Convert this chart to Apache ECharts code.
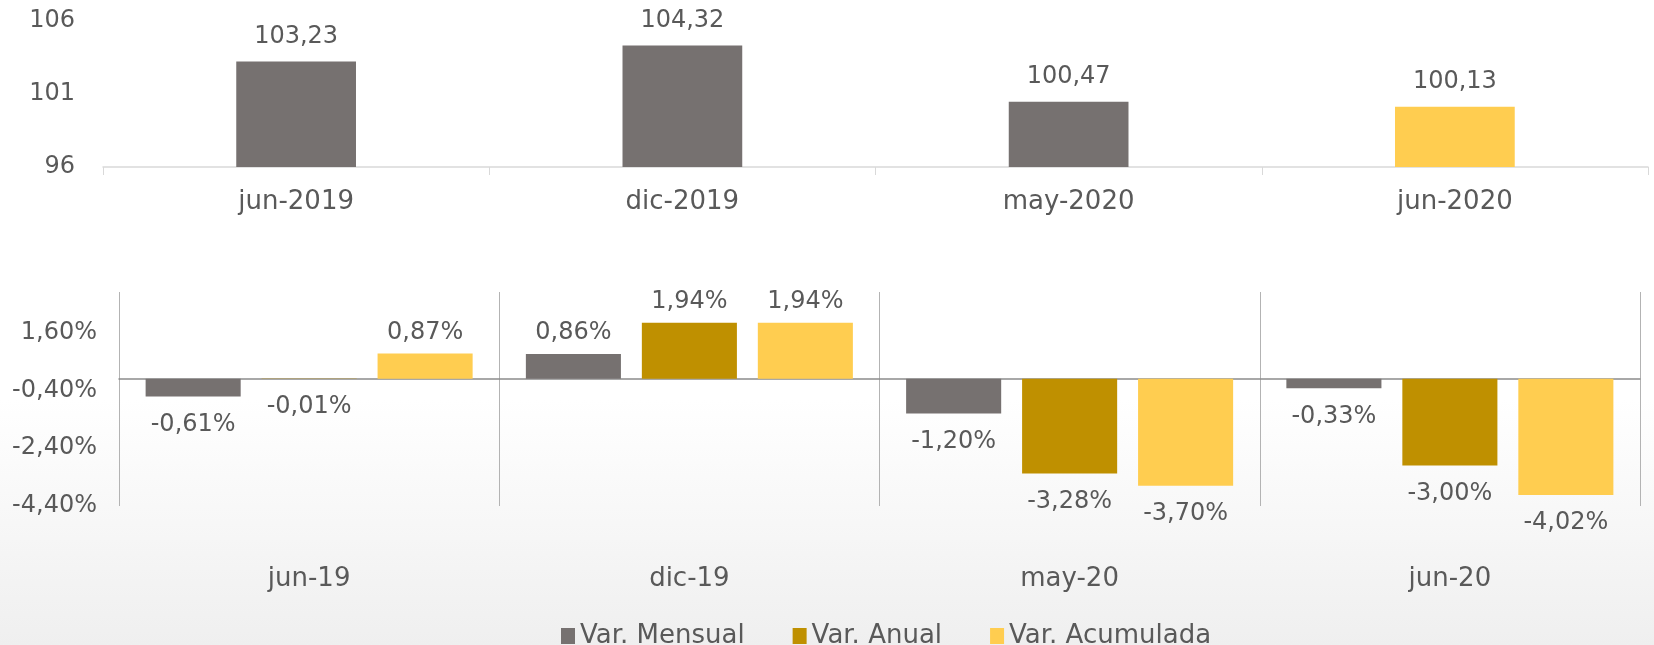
<!DOCTYPE html>
<html>
<head>
<meta charset="utf-8">
<script src="https://cdn.jsdelivr.net/npm/echarts@6/dist/echarts.min.js"></script>
<style>
  html, body { margin: 0; padding: 0; }
  #chart { width: 1654px; height: 645px; }
</style>
</head>
<body>
<div id="chart"></div>
<script>
'use strict';

// top chart: index level
var fechas = ['jun-2019', 'dic-2019', 'may-2020', 'jun-2020'];
var indice = [103.23, 104.32, 100.47, 100.13];

// bottom chart: variations (%)
var periodos = ['jun-19', 'dic-19', 'may-20', 'jun-20'];
var varMensual = [-0.61, 0.86, -1.20, -0.33];
var varAnual = [-0.01, 1.94, -3.28, -3.00];
var varAcumulada = [0.87, 1.94, -3.70, -4.02];

var GRIS = '#767170';
var ORO = '#bf9000';
var AMARILLO = '#ffcd50';
var TEXTO = '#595959';
var FUENTE = '"DejaVu Sans", sans-serif';

function coma(v) {
  return v.toFixed(2).replace('.', ',');
}

function pct(v) {
  return coma(v) + '%';
}

// negative bars get their label underneath
function conEtiqueta(valores) {
  return valores.map(function(v) {
    return {
      value: v,
      label: v < 0 ? { position: 'bottom', distance: 16 } : { position: 'top', distance: 9 }
    };
  });
}

function serieVar(nombre, valores, color) {
  return {
    name: nombre,
    type: 'bar',
    xAxisIndex: 1,
    yAxisIndex: 1,
    barWidth: '25%',
    barGap: '22%',
    itemStyle: { color: color },
    label: {
      show: true,
      color: TEXTO,
      fontFamily: FUENTE,
      fontSize: 24,
      formatter: function(p) { return pct(p.value); }
    },
    data: conEtiqueta(valores)
  };
}

var myChart = echarts.init(document.getElementById('chart'));

var option = {
  animation: false,
  backgroundColor: {
    type: 'linear', x: 0, y: 0, x2: 0, y2: 1,
    colorStops: [
      { offset: 0, color: '#ffffff' },
      { offset: 0.62, color: '#ffffff' },
      { offset: 1, color: '#efefef' }
    ]
  },
  textStyle: { fontFamily: FUENTE },
  legend: {
    data: ['Var. Mensual', 'Var. Anual', 'Var. Acumulada'],
    left: 556,
    top: 618,
    icon: 'rect',
    itemWidth: 14,
    itemHeight: 16,
    itemGap: 48,
    textStyle: { color: TEXTO, fontSize: 26, fontFamily: FUENTE }
  },
  grid: [
    { left: 103, right: 6, top: 21, bottom: 478 },
    { left: 119, right: 14, top: 292, bottom: 139 }
  ],
  xAxis: [{
    type: 'category',
    gridIndex: 0,
    data: fechas,
    axisLine: { lineStyle: { color: '#d9d9d9', width: 1.5 } },
    axisTick: { show: true, length: 8, lineStyle: { color: '#d9d9d9' } },
    axisLabel: { color: TEXTO, fontSize: 26, margin: 22 },
    splitLine: { show: false }
  }, {
    // zero line + category separators
    type: 'category',
    gridIndex: 1,
    data: periodos,
    axisLine: { onZero: true, lineStyle: { color: '#8c8c8c', width: 1.5 } },
    axisTick: { show: false },
    axisLabel: { show: false },
    splitLine: { show: true, lineStyle: { color: '#b3b3b3', width: 1 } }
  }, {
    // labels at the bottom
    type: 'category',
    gridIndex: 1,
    data: periodos,
    position: 'bottom',
    axisLine: { show: false, onZero: false },
    axisTick: { show: false },
    axisLabel: { color: TEXTO, fontSize: 26, margin: 60 },
    splitLine: { show: false }
  }],
  yAxis: [{
    type: 'value',
    gridIndex: 0,
    min: 96,
    max: 106,
    interval: 5,
    axisLine: { show: false },
    axisTick: { show: false },
    splitLine: { show: false },
    axisLabel: { color: TEXTO, fontSize: 24, margin: 28 }
  }, {
    type: 'value',
    gridIndex: 1,
    min: -4.4,
    max: 3,
    interval: 2,
    axisLine: { show: false },
    axisTick: { show: false },
    splitLine: { show: false },
    axisLabel: {
      color: TEXTO,
      fontSize: 24,
      margin: 22,
      showMaxLabel: false,
      formatter: function(v) { return pct(v); }
    }
  }],
  series: [{
    name: 'Índice',
    type: 'bar',
    xAxisIndex: 0,
    yAxisIndex: 0,
    barWidth: '31%',
    itemStyle: {
      color: function(p) { return p.dataIndex === indice.length - 1 ? AMARILLO : GRIS; }
    },
    label: {
      show: true,
      position: 'top',
      distance: 13,
      color: TEXTO,
      fontSize: 24,
      formatter: function(p) { return coma(p.value); }
    },
    data: indice
  },
  serieVar('Var. Mensual', varMensual, GRIS),
  serieVar('Var. Anual', varAnual, ORO),
  serieVar('Var. Acumulada', varAcumulada, AMARILLO)
  ]
};

myChart.setOption(option);
</script>
</body>
</html>
